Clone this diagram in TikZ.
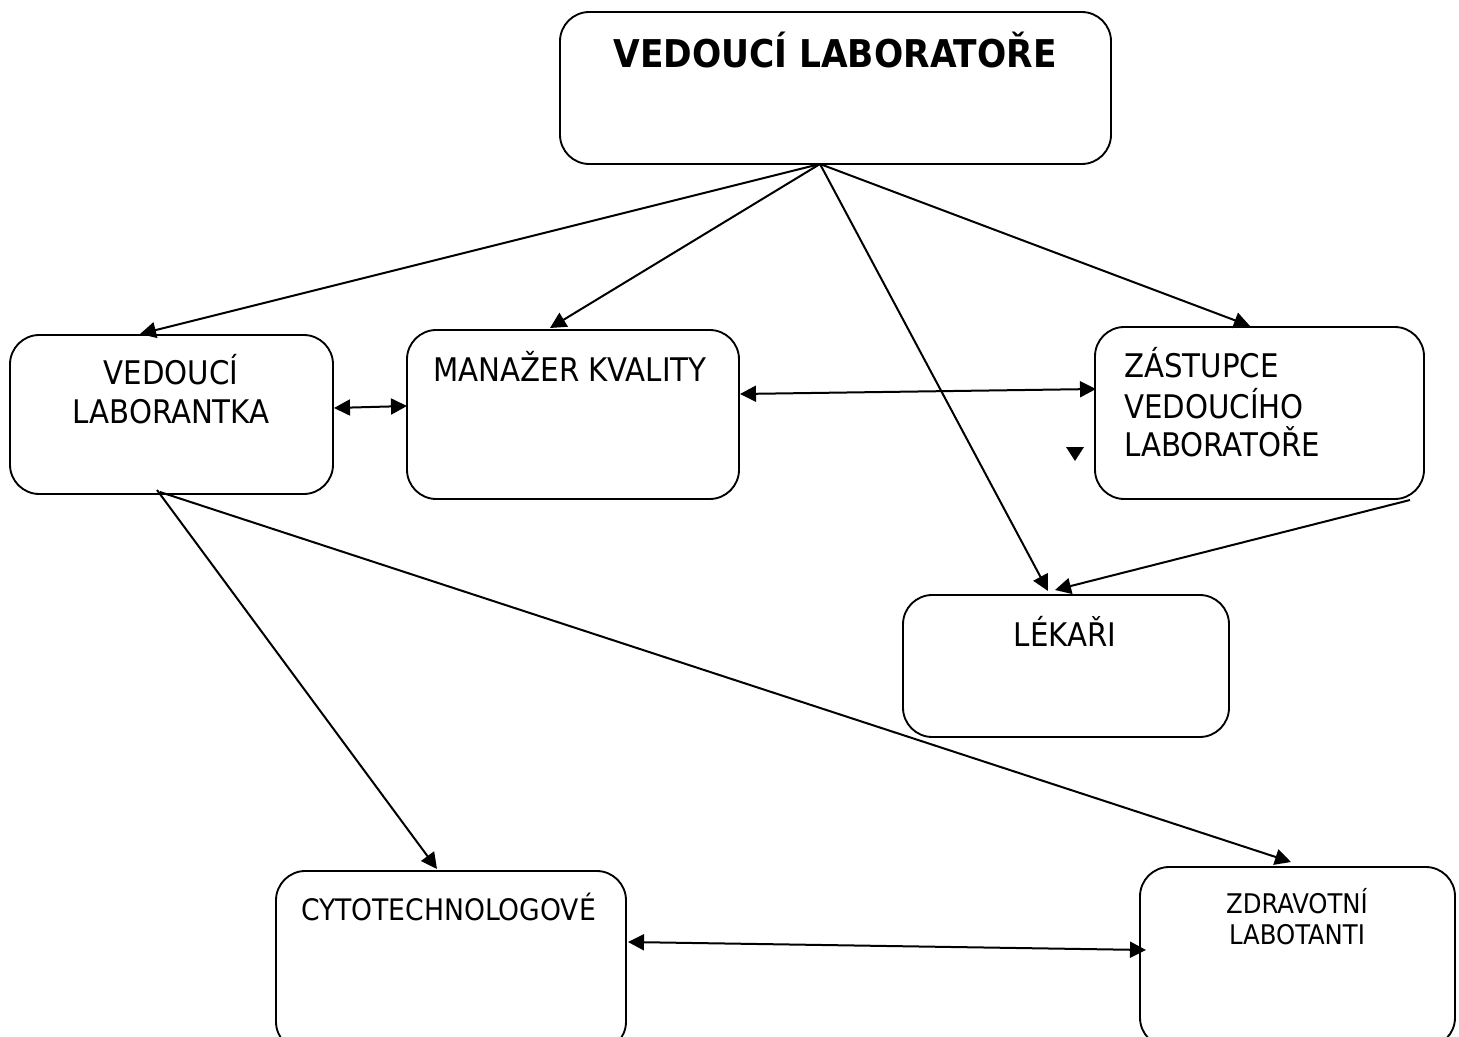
\documentclass[tikz,border=0pt]{standalone}
\usepackage{fontspec}
\setmainfont{DejaVu Sans Condensed}
\usetikzlibrary{arrows.meta,calc}
\begin{document}
\begin{tikzpicture}[x=0.75pt,y=-0.75pt,
  box/.style={draw,line width=1.4pt,rounded corners=22pt,inner sep=0pt},
  txt/.style={inner sep=0pt,anchor=base,font=\fontsize{24.4}{28}\selectfont},
  conn/.style={line width=1.5pt,-{Triangle[length=12pt,width=12pt]}},
  dconn/.style={line width=1.5pt,{Triangle[length=12pt,width=12pt]}-{Triangle[length=12pt,width=12pt]}}]
\useasboundingbox (0,0) rectangle (1459,1037);
\clip (0,0) rectangle (1459,1037);
% boxes
\node[box,minimum width=551pt*0.75,minimum height=152pt*0.75] (top) at (835.5,88) {};
\node[box,minimum width=323pt*0.75,minimum height=159pt*0.75] (vl) at (171.5,414.5) {};
\node[box,minimum width=332pt*0.75,minimum height=169pt*0.75] (mk) at (573,414.5) {};
\node[box,minimum width=329pt*0.75,minimum height=172pt*0.75] (zv) at (1259.5,413) {};
\node[box,minimum width=326pt*0.75,minimum height=142pt*0.75] (lek) at (1066,666) {};
\node[box,minimum width=350pt*0.75,minimum height=180pt*0.75] (cyt) at (451,961) {};
\node[box,minimum width=315pt*0.75,minimum height=180pt*0.75] (zdr) at (1297.5,957) {};
% texts
\node[txt,font=\bfseries\fontsize{28.7}{32}\selectfont] (ttop) at (835,68) {VEDOUCÍ LABORATOŘE};
\node[txt] (tvl1) at (171,384) {VEDOUCÍ};
\node[txt] (tvl2) at (171,423) {LABORANTKA};
\node[txt] (tmk) at (570,381) {MANAŽER KVALITY};
\node[txt,anchor=base west] (tzv1) at (1124,378) {ZÁSTUPCE};
\node[txt,anchor=base west] (tzv2) at (1124,418) {VEDOUCÍHO};
\node[txt,anchor=base west] (tzv3) at (1124,456) {LABORATOŘE};
\node[txt] (tlek) at (1065,646) {LÉKAŘI};
\node[txt,font=\fontsize{22.2}{26}\selectfont] (tcyt) at (448.5,920) {CYTOTECHNOLOGOVÉ};
\node[txt,font=\fontsize{20.3}{24}\selectfont] (tzd1) at (1297,913) {ZDRAVOTNÍ};
\node[txt,font=\fontsize{20.3}{24}\selectfont] (tzd2) at (1297,944) {LABOTANTI};
% connector endpoints
\coordinate (src) at (820,164);
\coordinate (vlt) at (140,334);
\coordinate (mkt) at (550,328);
\coordinate (lekt) at (1048,591);
\coordinate (zvt) at (1250,326);
\coordinate (vlr) at (334,408);
\coordinate (mkl) at (407,406);
\coordinate (mkr) at (740,394);
\coordinate (zvl) at (1096,389);
\coordinate (zvb) at (1410,500);
\coordinate (lekt2) at (1055,590);
\coordinate (vlb) at (157,490);
\coordinate (vlb2) at (160,492);
\coordinate (cytt) at (437,869);
\coordinate (zdrt) at (1291,862);
\coordinate (cytr) at (628,942);
\coordinate (zdrl) at (1146,950);
% connectors
\draw[conn] (src) -- (vlt);
\draw[conn] (src) -- (mkt);
\draw[conn] (src) -- (lekt);
\draw[conn] (src) -- (zvt);
\draw[dconn] (vlr) -- (mkl);
\draw[dconn] (mkr) -- (zvl);
\draw[conn] (zvb) -- (lekt2);
\draw[conn] (vlb) -- (cytt);
\draw[conn] (vlb2) -- (zdrt);
\draw[dconn] (cytr) -- (zdrl);
% stray marker
\fill (1066,447) -- (1084,447) -- (1075,461) -- cycle;
\end{tikzpicture}
\end{document}
